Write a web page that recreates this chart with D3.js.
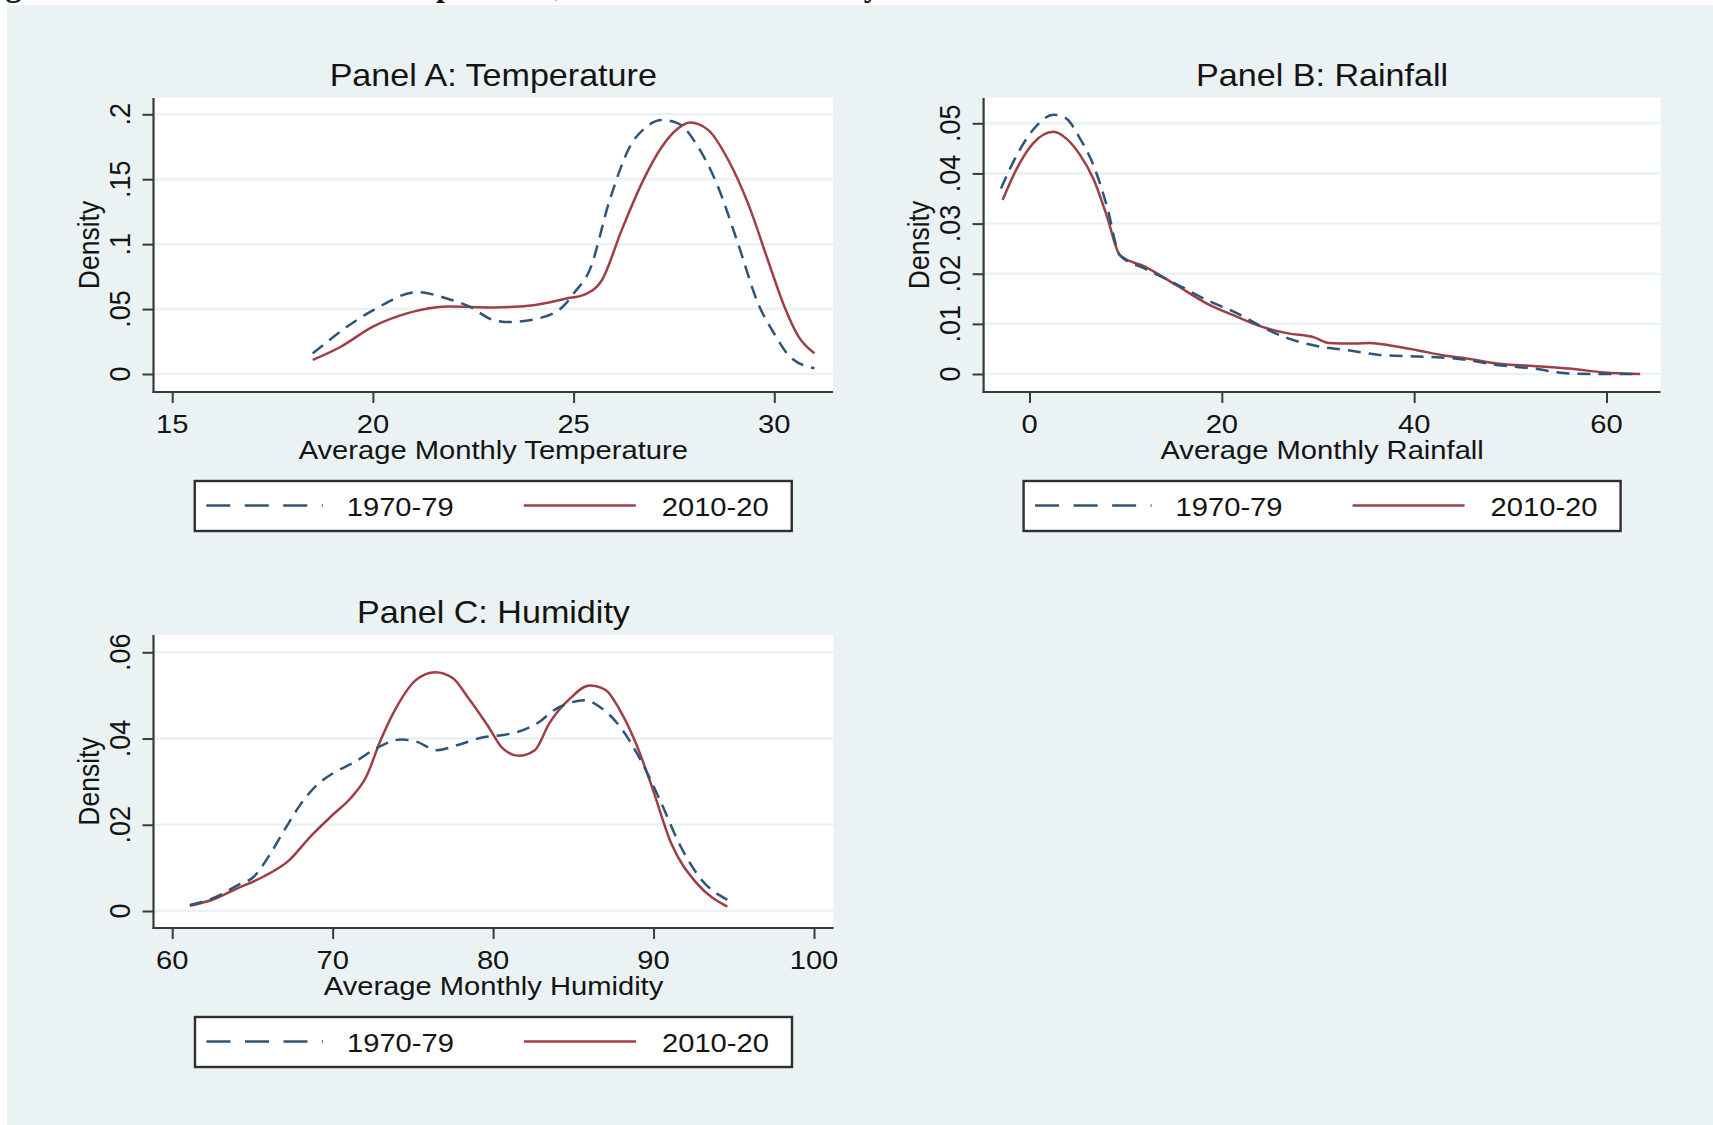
<!DOCTYPE html>
<html><head><meta charset="utf-8">
<script src="https://cdn.jsdelivr.net/npm/d3@7"></script>
<style>
body{margin:0;background:#fff;}
text{font-family:"Liberation Sans",Arial,sans-serif;fill:#141414;}
</style>
</head><body>
<svg id="chart" width="1713" height="1125"></svg>
<script>
// ---------------- DATA ----------------
const seriesNames = ["1970-79", "2010-20"];
const caption = "Figure 3: Kernel Densities of Temperature, Rainfall and Humidity";

// Panel A: Temperature
const tempTitle = "Panel A: Temperature";
const tempXLabel = "Average Monthly Temperature";
const tempXTicks = [15, 20, 25, 30];
const tempYTicks = [0, 0.05, 0.1, 0.15, 0.2];
const tempYTickLabels = ["0", ".05", ".1", ".15", ".2"];
const temp1970x = [18.5,20.0,21.1,21.86,22.4,23.0,23.4,24.15,24.8,25.0,25.4,25.9,26.4,26.8,27.2,27.6,28.1,28.6,29.1,29.6,30.0,30.4,31.0];
const temp1970y = [0.0159,0.049,0.063,0.058,0.052,0.0416,0.040,0.043,0.054,0.062,0.080,0.134,0.175,0.190,0.1956,0.193,0.175,0.144,0.100,0.054,0.031,0.013,0.0044];
const temp2010x = [18.5,19.2,20.0,20.85,21.86,23.0,24.0,24.8,25.3,25.7,26.2,26.7,27.2,27.6,27.9,28.35,28.85,29.35,29.87,30.25,30.6,31.0];
const temp2010y = [0.0108,0.021,0.0365,0.0467,0.052,0.0513,0.053,0.058,0.0616,0.072,0.111,0.147,0.175,0.189,0.1936,0.188,0.165,0.131,0.085,0.052,0.029,0.016];

// Panel B: Rainfall
const rainTitle = "Panel B: Rainfall";
const rainXLabel = "Average Monthly Rainfall";
const rainXTicks = [0, 20, 40, 60];
const rainYTicks = [0, 0.01, 0.02, 0.03, 0.04, 0.05];
const rainYTickLabels = ["0", ".01", ".02", ".03", ".04", ".05"];
const rain1970x = [-2.97,-1.22,0.37,2.5,3.8,5.15,6.7,8.06,9.4,12.0,15.2,18.4,21.6,24.8,26.9,30.1,33.3,36.4,40.2,42.8,45.5,48.6,52.4,56.1,59.8,63.5];
const rain1970y = [0.037,0.044,0.0487,0.0517,0.051,0.0473,0.0414,0.0334,0.0237,0.021,0.018,0.0148,0.0121,0.0088,0.0071,0.0055,0.0047,0.0038,0.0035,0.0033,0.0028,0.0018,0.0011,0.0001,0.0,0.0];
const rain2010x = [-2.8,-1.2,0.37,2.5,3.8,5.15,6.7,8.06,9.4,12.0,15.2,18.4,21.6,24.2,26.9,29.6,31.1,33.8,35.4,37.5,40.2,42.8,45.5,48.6,52.4,56.1,59.8,63.5];
const rain2010y = [0.0347,0.0414,0.046,0.0483,0.047,0.044,0.0387,0.0314,0.0237,0.0214,0.0178,0.0141,0.0114,0.0094,0.0081,0.0073,0.0062,0.0061,0.0062,0.0057,0.0048,0.0038,0.0031,0.0021,0.0016,0.0011,0.0003,0.0];

// Panel C: Humidity
const humTitle = "Panel C: Humidity";
const humXLabel = "Average Monthly Humidity";
const humXTicks = [60, 70, 80, 90, 100];
const humYTicks = [0, 0.02, 0.04, 0.06];
const humYTickLabels = ["0", ".02", ".04", ".06"];
const hum1970x = [61.1,62.5,64.1,65.1,66.0,67.0,67.9,68.9,70.0,71.4,72.7,74.3,75.2,76.5,77.8,79.4,80.6,81.9,82.9,83.8,84.8,85.7,86.7,87.9,89.2,90.4,91.7,93.0,94.6];
const hum1970y = [0.0014,0.0029,0.006,0.008,0.0126,0.0188,0.0242,0.0288,0.0319,0.0346,0.0377,0.0398,0.0393,0.0373,0.0385,0.0403,0.0408,0.042,0.0439,0.0466,0.0483,0.0489,0.0472,0.0428,0.035,0.0257,0.0149,0.0072,0.0026];
const hum2010x = [61.1,62.5,64.1,65.7,67.3,68.6,70.0,71.1,72.1,73.0,74.0,75.2,76.4,77.5,78.4,79.7,80.6,81.6,82.6,83.5,84.8,86.0,87.0,87.9,88.9,89.9,91.1,92.7,94.6];
const hum2010y = [0.0012,0.0026,0.0053,0.008,0.0118,0.0172,0.0223,0.0261,0.0312,0.0397,0.0474,0.0536,0.0554,0.054,0.0497,0.0428,0.0377,0.036,0.0373,0.0435,0.0493,0.0523,0.0513,0.0466,0.0389,0.0288,0.0157,0.0064,0.001];

// ---------------- STYLE / LAYOUT ----------------
const BG = "#eaf2f3", GRID = "#eaf2f3", AXIS = "#3a3a3a";
const C1970 = "#2e5478", C2010 = "#9e3e46";
const SX = 1.1; // horizontal text stretch

const panels = [
  {title: tempTitle, xLabel: tempXLabel, xTicks: tempXTicks, yTicks: tempYTicks, yLabels: tempYTickLabels,
   s1: {x: temp1970x, y: temp1970y}, s2: {x: temp2010x, y: temp2010y},
   left: 153.5, right: 833, top: 98, bottom: 392, xr: [172.2, 774.3], yr: [374, 114.3]},
  {title: rainTitle, xLabel: rainXLabel, xTicks: rainXTicks, yTicks: rainYTicks, yLabels: rainYTickLabels,
   s1: {x: rain1970x, y: rain1970y}, s2: {x: rain2010x, y: rain2010y},
   left: 983.6, right: 1660.6, top: 98, bottom: 392, xr: [1029.5, 1606.5], yr: [374, 123.3]},
  {title: humTitle, xLabel: humXLabel, xTicks: humXTicks, yTicks: humYTicks, yLabels: humYTickLabels,
   s1: {x: hum1970x, y: hum1970y}, s2: {x: hum2010x, y: hum2010y},
   left: 153.5, right: 833.5, top: 635, bottom: 928, xr: [172.2, 814], yr: [911, 652.3]}
];

const svg = d3.select("#chart");
svg.append("rect").attr("x", 7).attr("y", 5).attr("width", 1713 - 7).attr("height", 1125 - 5).attr("fill", BG);

// clipped caption remnant at the very top (only descenders visible, as in the reference)
svg.append("text").attr("x", -23).attr("y", -4.5)
  .style("font-family", "'Liberation Serif','Times New Roman',serif").style("font-weight", "bold")
  .style("font-size", "32px").text(caption);

function htext(g, x, y, str, size, anchor) {
  return g.append("text").attr("transform", `translate(${x},${y}) scale(${SX},1)`)
    .attr("text-anchor", anchor || "middle").style("font-size", size + "px").text(str);
}

panels.forEach(p => {
  const g = svg.append("g");
  const x = d3.scaleLinear().domain([p.xTicks[0], p.xTicks[p.xTicks.length - 1]]).range(p.xr);
  const y = d3.scaleLinear().domain([0, p.yTicks[p.yTicks.length - 1]]).range(p.yr);
  const cx = (p.left + p.right) / 2, cy = (p.top + p.bottom) / 2;

  // plot region
  g.append("rect").attr("x", p.left).attr("y", p.top).attr("width", p.right - p.left)
    .attr("height", p.bottom - p.top).attr("fill", "#fff");
  // grid
  g.selectAll(".grid").data(p.yTicks).enter().append("line")
    .attr("x1", p.left).attr("x2", p.right).attr("y1", d => y(d)).attr("y2", d => y(d))
    .attr("stroke", GRID).attr("stroke-width", 2.5);

  // curves
  const line = d3.line().x(d => x(d[0])).y(d => y(d[1])).curve(d3.curveMonotoneX);
  const d1 = p.s1.x.map((v, i) => [v, p.s1.y[i]]);
  const d2 = p.s2.x.map((v, i) => [v, p.s2.y[i]]);
  g.append("path").attr("d", line(d2)).attr("fill", "none").attr("stroke", C2010).attr("stroke-width", 2.5);
  g.append("path").attr("d", line(d1)).attr("fill", "none").attr("stroke", C1970).attr("stroke-width", 2.5)
    .attr("stroke-dasharray", "13,8");

  // y axis
  const ya = d3.axisLeft(y).tickValues(p.yTicks).tickSize(11).tickSizeOuter(0).tickFormat("");
  const yg = g.append("g").attr("transform", `translate(${p.left},0)`).call(ya);
  yg.select(".domain").remove();
  yg.selectAll(".tick line").attr("stroke", AXIS).attr("stroke-width", 2);
  g.append("line").attr("x1", p.left).attr("x2", p.left).attr("y1", p.top).attr("y2", p.bottom + 1)
    .attr("stroke", AXIS).attr("stroke-width", 2.2);
  p.yTicks.forEach((t, i) => {
    g.append("text").attr("transform", `translate(${p.left - 23.5},${y(t)}) scale(${SX},1) rotate(-90)`)
      .attr("text-anchor", "middle").style("font-size", "27px").text(p.yLabels[i]);
  });
  g.append("text").attr("transform", `translate(${p.left - 54.5},${cy}) scale(${SX},1) rotate(-90)`)
    .attr("text-anchor", "middle").style("font-size", "26.5px").text("Density");

  // x axis
  const xa = d3.axisBottom(x).tickValues(p.xTicks).tickSize(11).tickSizeOuter(0).tickFormat("");
  const xg = g.append("g").attr("transform", `translate(0,${p.bottom})`).call(xa);
  xg.select(".domain").remove();
  xg.selectAll(".tick line").attr("stroke", AXIS).attr("stroke-width", 2);
  g.append("line").attr("x1", p.left - 1).attr("x2", p.right).attr("y1", p.bottom).attr("y2", p.bottom)
    .attr("stroke", AXIS).attr("stroke-width", 2.2);
  p.xTicks.forEach(t => htext(g, x(t), p.bottom + 41, String(t), 26.5));
  htext(g, cx, p.bottom + 66.5, p.xLabel, 26.5);

  // title
  htext(g, cx, p.top - 12, p.title, 31);

  // legend
  const lx = cx - 298.5, ly = p.bottom + 89, lw = 597, lh = 50;
  g.append("rect").attr("x", lx).attr("y", ly).attr("width", lw).attr("height", lh)
    .attr("fill", "#fff").attr("stroke", "#2f2f2f").attr("stroke-width", 2.4);
  const my = ly + 24.5;
  g.append("line").attr("x1", lx + 11.5).attr("x2", lx + 128).attr("y1", my).attr("y2", my)
    .attr("stroke", C1970).attr("stroke-width", 2.4).attr("stroke-dasharray", "24,14.5");
  htext(g, lx + 152, ly + 34.5, seriesNames[0], 26.5, "start");
  g.append("line").attr("x1", lx + 329).attr("x2", lx + 441).attr("y1", my).attr("y2", my)
    .attr("stroke", C2010).attr("stroke-width", 2.4);
  htext(g, lx + 467, ly + 34.5, seriesNames[1], 26.5, "start");
});
</script>
</body></html>
